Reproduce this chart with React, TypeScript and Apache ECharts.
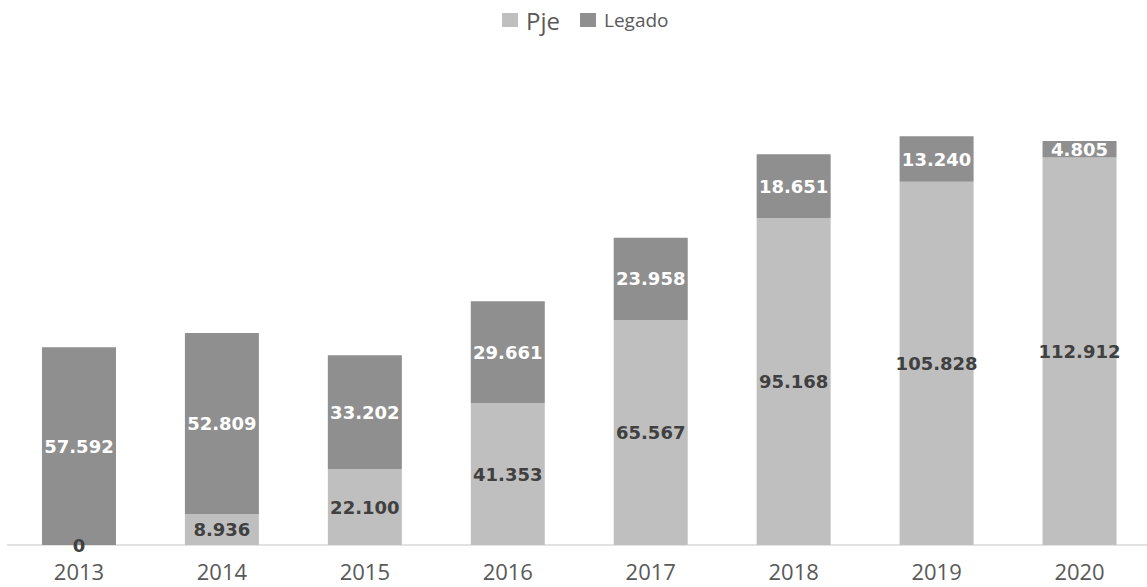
import React, { useEffect, useRef } from "react";
import * as echarts from "echarts";

const years = ["2013", "2014", "2015", "2016", "2017", "2018", "2019", "2020"];
const pje = [0, 8936, 22100, 41353, 65567, 95168, 105828, 112912];
const legado = [57592, 52809, 33202, 29661, 23958, 18651, 13240, 4805];

const fmt = (v: number) => v.toLocaleString("de-DE");

export default function App() {
  const ref = useRef<HTMLDivElement>(null);
  useEffect(() => {
    const chart = echarts.init(ref.current!, null, { renderer: "svg" });
    chart.setOption({
      animation: false,
      backgroundColor: "#ffffff",
      legend: {
        top: 3,
        left: 497,
        icon: "rect",
        itemWidth: 16,
        itemHeight: 14,
        itemGap: 20,
        textStyle: { color: "#595959", fontFamily: "Open Sans" },
        data: [
          { name: "Pje", textStyle: { fontSize: 24, color: "#595959", padding: [0, 0, 0, 3] } },
          { name: "Legado", textStyle: { fontSize: 19, color: "#595959", padding: [0, 0, 0, 3] } },
        ],
      },
      grid: { left: 7.5, right: 0, top: 64.5, bottom: 42 },
      xAxis: {
        type: "category",
        data: years,
        axisLine: { lineStyle: { color: "#d9d9d9", width: 1.5 } },
        axisTick: { show: false },
        axisLabel: {
          color: "#595959",
          fontSize: 22,
          lineHeight: 18,
          fontFamily: "Open Sans",
          margin: 17,
        },
      },
      yAxis: {
        type: "value",
        min: 0,
        max: 140000,
        show: false,
        splitLine: { show: false },
      },
      series: [
        {
          name: "Pje",
          type: "bar",
          stack: "t",
          data: pje,
          barWidth: 74,
          itemStyle: { color: "#bfbfbf" },
          label: {
            show: true,
            position: "inside",
            formatter: (p: any) => fmt(p.value),
            color: "#404040",
            fontWeight: "bold",
            fontSize: 18,
            fontFamily: "DejaVu Sans",
          },
        },
        {
          name: "Legado",
          type: "bar",
          stack: "t",
          data: legado,
          barWidth: 74,
          itemStyle: { color: "#8f8f8f" },
          label: {
            show: true,
            position: "inside",
            formatter: (p: any) => fmt(p.value),
            color: "#ffffff",
            fontWeight: "bold",
            fontSize: 18,
            fontFamily: "DejaVu Sans",
          },
        },
      ],
    });
    return () => chart.dispose();
  }, []);
  return (
    <div
      style={{ position: "absolute", left: 0, top: 0, width: 1147, height: 587, overflow: "hidden" }}
    >
      <div ref={ref} style={{ width: 1151, height: 587 }} />
    </div>
  );
}
